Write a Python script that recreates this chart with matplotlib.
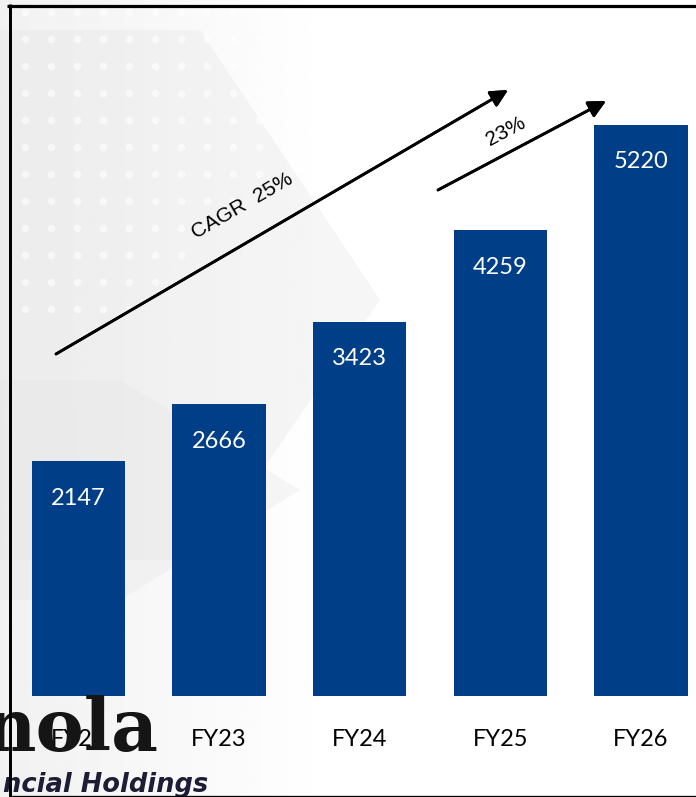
import numpy as np
import matplotlib.pyplot as plt
from matplotlib.lines import Line2D
from matplotlib.patches import Polygon

# revenue by fiscal year
years = ['FY22', 'FY23', 'FY24', 'FY25', 'FY26']
values = [2147, 2666, 3423, 4259, 5220]
cagr_label = 'CAGR  25%'
yoy_label = '23%'

W, H = 696, 797
BLUE = '#003f87'

fig = plt.figure(figsize=(W / 100, H / 100), dpi=100)
fig.patch.set_facecolor('white')


def px(x, y):
    # top-left pixel position -> figure fraction
    return x / W, 1 - y / H


# faint grey backdrop on the left side
bg = fig.add_axes([0, 0, 1, 1], zorder=0)
bg.set_xlim(0, W)
bg.set_ylim(H, 0)
bg.axis('off')
grad = np.clip(np.linspace(0.945, 1.06, 256), 0, 1)
bg.imshow(np.tile(grad, (16, 1)), cmap='gray', vmin=0, vmax=1,
          extent=(0, W, H, 0), aspect='auto', interpolation='bilinear')
for pts, c in [([(0, 30), (200, 30), (380, 300), (200, 560), (0, 560)], '#e2e2e2'),
               ([(0, 380), (120, 380), (300, 490), (120, 600), (0, 600)], '#e4e4e4')]:
    bg.add_patch(Polygon(pts, closed=True, fc=c, ec='none', alpha=0.3))
dx, dy = np.meshgrid(np.arange(25, 330, 26), np.arange(12, 330, 27))
dots = dx + dy * 0.9 < 420
bg.scatter(dx[dots], dy[dots], s=30, c='white', alpha=0.6, lw=0)

ax = fig.add_axes([0, 0, 1, 1], zorder=1)
ax.patch.set_alpha(0)
ax.axis('off')
step, x0 = 140.6, 78.5
scale = 0.1094
ax.set_xlim(-x0 / step, (W - x0) / step)
ax.set_ylim((696 - H) / scale, 696 / scale)

x = np.arange(len(years))
bars = ax.bar(x, values, width=0.665, color=BLUE, zorder=3)
for rect, v in zip(bars, values):
    ax.annotate(str(v), (rect.get_x() + rect.get_width() / 2, v),
                xytext=(0, -37), textcoords='offset pixels',
                ha='center', va='center', color='white',
                fontsize=17, family='Lato', zorder=4)
for xi, lab in zip(x, years):
    ax.annotate(lab, (xi, 0), xytext=(0, -44), textcoords='offset pixels',
                ha='center', va='center', color='black',
                fontsize=17, family='Lato', zorder=4)

# growth arrows
arrow = dict(arrowstyle='-|>', lw=2, color='black', mutation_scale=26,
             shrinkA=0, shrinkB=0)
fig.add_artist(plt.annotate('', xy=px(508, 90), xytext=px(56, 354),
                            xycoords='figure fraction', arrowprops=arrow))
fig.add_artist(plt.annotate('', xy=px(606, 101), xytext=px(438, 190),
                            xycoords='figure fraction', arrowprops=arrow))
fig.text(*px(242, 206), cagr_label, rotation=30, ha='center', va='center',
         fontsize=15, family='Liberation Sans', zorder=5)
fig.text(*px(506, 131), yoy_label, rotation=28, ha='center', va='center',
         fontsize=15, family='Liberation Sans', zorder=5)

# partial logo watermark at bottom-left, cut by the edge
fig.text(*px(158, 751), 'nola', ha='right', va='baseline', fontsize=52,
         family='DejaVu Serif', weight='bold', color='#151515', zorder=2)
fig.text(*px(208, 792), 'ncial Holdings', ha='right', va='baseline',
         fontsize=18.5, family='DejaVu Sans', weight='bold', style='italic',
         color='#1d1d35', zorder=2)

# frame lines
for (xa, ya), (xb, yb), lw in [((7, 5.5), (W, 5.5), 3.2),
                               ((9.5, 4), (9.5, H), 3.0),
                               ((9, 795.5), (W, 795.5), 1.3)]:
    fig.add_artist(Line2D([xa / W, xb / W], [1 - ya / H, 1 - yb / H],
                          transform=fig.transFigure, color='black', lw=lw * 0.72,
                          zorder=10, solid_capstyle='butt'))

fig.savefig('out.png', dpi=100)
